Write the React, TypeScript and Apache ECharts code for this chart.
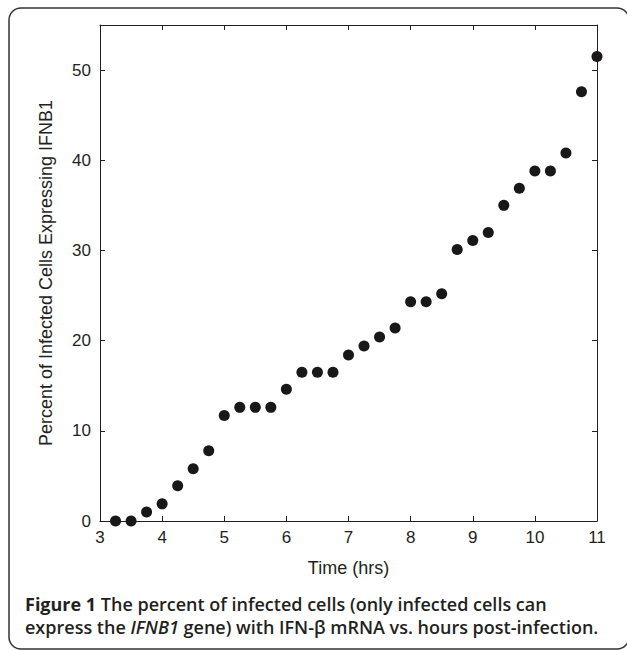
import React, { useEffect, useRef } from "react";
import * as echarts from "echarts";

const times = [3.25, 3.5, 3.75, 4, 4.25, 4.5, 4.75, 5, 5.25, 5.5, 5.75, 6, 6.25, 6.5, 6.75, 7, 7.25, 7.5, 7.75, 8, 8.25, 8.5, 8.75, 9, 9.25, 9.5, 9.75, 10, 10.25, 10.5, 10.75, 11];
const percents = [0, 0, 1.0, 1.9, 3.9, 5.8, 7.8, 11.7, 12.6, 12.6, 12.6, 14.6, 16.5, 16.5, 16.5, 18.4, 19.4, 20.4, 21.4, 24.3, 24.3, 25.2, 30.1, 31.1, 32.0, 35.0, 36.9, 38.8, 38.8, 40.8, 47.6, 51.5];

const xTitle = "Time (hrs)";
const yTitle = "Percent of Infected Cells Expressing IFNB1";
const captionLine1 = ["Figure 1", " The percent of infected cells (only infected cells can"];
const captionLine2 = ["express the ", "IFNB1", " gene) with IFN-β mRNA vs. hours post-infection."];

const INK = "#231f20";
const AXIS_FONT = "'Liberation Sans', Arial, Helvetica, sans-serif";
const CAP_FONT = "'Open Sans', 'Noto Sans', sans-serif";

export default function App() {
  const ref = useRef<HTMLDivElement>(null);
  useEffect(() => {
    if (!ref.current) return;
    const chart = echarts.init(ref.current, null, { renderer: "svg" });
    const axisCommon = {
      axisLine: { show: true, onZero: false, lineStyle: { color: INK, width: 1 } },
      axisTick: { show: true, inside: true, length: 5, lineStyle: { color: INK, width: 1 } },
      splitLine: { show: false },
    };
    const capStyle = { fontFamily: CAP_FONT, fontSize: 18, lineHeight: 20, fill: INK };
    chart.setOption({
      animation: false,
      backgroundColor: "#ffffff",
      grid: { left: 100, right: 30, top: 25, bottom: 130, containLabel: false },
      xAxis: [
        {
          type: "value",
          position: "bottom",
          min: 3,
          max: 11,
          interval: 1,
          ...axisCommon,
          axisLabel: { color: INK, fontSize: 17, fontFamily: AXIS_FONT, margin: 8 },
          name: xTitle,
          nameLocation: "middle",
          nameGap: 38,
          nameTextStyle: { color: INK, fontSize: 18, fontFamily: AXIS_FONT },
        },
        {
          type: "value",
          position: "top",
          min: 3,
          max: 11,
          interval: 1,
          ...axisCommon,
          axisLabel: { show: false },
        },
      ],
      yAxis: [
        {
          type: "value",
          position: "left",
          min: 0,
          max: 55,
          interval: 10,
          ...axisCommon,
          axisLabel: {
            color: INK,
            fontSize: 17,
            fontFamily: AXIS_FONT,
            margin: 9,
            showMaxLabel: false,
            formatter: (v: number) => (v % 10 === 0 ? String(v) : ""),
          },
          name: yTitle,
          nameLocation: "middle",
          nameGap: 45,
          nameRotate: 90,
          nameTextStyle: { color: INK, fontSize: 18, fontFamily: AXIS_FONT },
        },
        {
          type: "value",
          position: "right",
          min: 0,
          max: 55,
          interval: 10,
          ...axisCommon,
          axisLabel: { show: false },
        },
      ],
      series: [
        {
          type: "scatter",
          xAxisIndex: 0,
          yAxisIndex: 0,
          data: times.map((t, i) => [t, percents[i]]),
          symbol: "circle",
          symbolSize: 11,
          itemStyle: { color: "#1a1718", opacity: 1 },
          clip: false,
        },
      ],
      graphic: [
        {
          type: "rect",
          shape: { x: 9, y: 8, width: 620, height: 641, r: 12 },
          style: { fill: "none", stroke: "#333333", lineWidth: 1.5 },
          silent: true,
        },
        {
          type: "text",
          x: 25,
          y: 604,
          style: {
            text: `{b|${captionLine1[0]}}{s|${captionLine1[1]}}`,
            verticalAlign: "middle",
            rich: {
              b: { ...capStyle, fontWeight: 700 },
              s: { ...capStyle, fontWeight: 600 },
            },
          },
        },
        {
          type: "text",
          x: 25,
          y: 627,
          style: {
            text: `{s|${captionLine2[0]}}{i|${captionLine2[1]}}{s|${captionLine2[2]}}`,
            verticalAlign: "middle",
            rich: {
              s: { ...capStyle, fontWeight: 600 },
              i: { ...capStyle, fontWeight: 600, fontStyle: "italic" },
            },
          },
        },
      ],
    });
    return () => chart.dispose();
  }, []);
  return <div ref={ref} style={{ width: 627, height: 651, position: "absolute", left: 0, top: 0 }} />;
}
